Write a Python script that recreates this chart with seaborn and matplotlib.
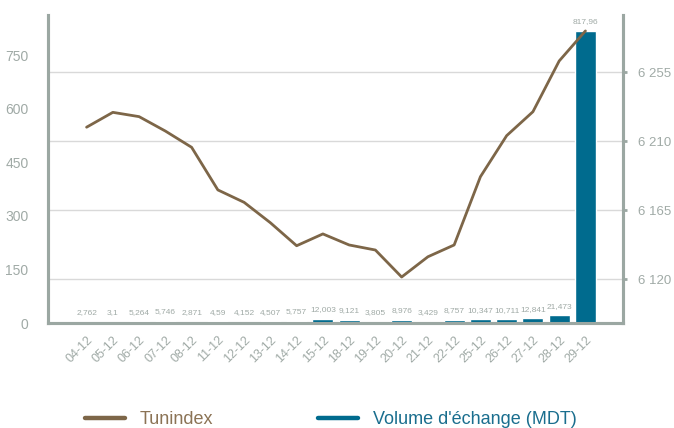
import numpy as np
import pandas as pd
import seaborn as sns
import matplotlib.pyplot as plt
from matplotlib.lines import Line2D
from matplotlib import transforms
from matplotlib.ticker import FuncFormatter

# données
dates = ["04-12", "05-12", "06-12", "07-12", "08-12", "11-12", "12-12", "13-12",
         "14-12", "15-12", "18-12", "19-12", "20-12", "21-12", "22-12", "25-12",
         "26-12", "27-12", "28-12", "29-12"]
volume = [2.762, 3.1, 5.264, 5.746, 2.871, 4.59, 4.152, 4.507, 5.757, 12.003,
          9.121, 3.805, 8.976, 3.429, 8.757, 10.347, 10.711, 12.841, 21.473, 817.96]
tunindex = [6219.0, 6228.7, 6225.9, 6216.5, 6205.9, 6178.1, 6170.0, 6156.7,
            6141.7, 6149.4, 6142.2, 6138.9, 6121.3, 6134.5, 6142.2, 6186.7,
            6213.5, 6229.1, 6262.2, 6281.8]
left_ticks = [0, 150, 300, 450, 600, 750]
right_ticks = [6120, 6165, 6210, 6255]

df = pd.DataFrame({"date": dates, "volume": volume, "tunindex": tunindex})

sns.set_style("white")
plt.rcParams["font.family"] = ["Liberation Sans", "DejaVu Sans"]

c_bar = "#006b8e"
c_line = "#7d6648"
c_axis = "#9ba7a2"
c_text = "#a0aaa6"

fig = plt.figure(figsize=(6.74, 4.28), dpi=100)
ax = fig.add_axes([0.0712, 0.2453, 0.8531, 0.7197])

sns.barplot(data=df, x="date", y="volume", color=c_bar, width=0.8,
            saturation=1, ax=ax, zorder=3)
ax.bar_label(ax.containers[0],
             labels=[f"{v:g}".replace(".", ",") for v in volume],
             padding=4, fontsize=6, color=c_text)

ax2 = ax.twinx()
sns.lineplot(x=np.arange(len(dates)), y=tunindex, color=c_line, lw=2,
             ax=ax2, zorder=3)

ax.set_xlim(-1.47, 20.43)
ax.set_ylim(0, 862)
ax2.set_ylim(6091.3, 6292.2)

# grille (suivant l'axe de droite) sous les barres
tr = transforms.blended_transform_factory(ax.transAxes, ax2.transData)
for t in right_ticks:
    ax.add_line(Line2D([0, 1], [t, t], transform=tr, color="#d9d9d9",
                       lw=1, zorder=1))

ax.set_yticks(left_ticks)
ax2.set_yticks(right_ticks)
ax2.yaxis.set_major_formatter(FuncFormatter(lambda v, p: f"{int(v):,}".replace(",", " ")))

ax.set_xlabel("")
ax.set_ylabel("")
ax2.set_ylabel("")

for a in (ax, ax2):
    for s in a.spines.values():
        s.set_color(c_axis)
        s.set_linewidth(2.2)
    a.spines["top"].set_visible(False)
ax.spines["bottom"].set_zorder(2)

ax.tick_params(axis="y", length=0, pad=14, labelsize=10, labelcolor=c_text)
ax.tick_params(axis="x", length=0, pad=8, labelsize=9, labelcolor=c_text)
ax2.tick_params(axis="y", length=3, width=2, color=c_axis, pad=8,
                labelsize=9.5, labelcolor=c_text)
for lab in ax.get_xticklabels():
    lab.set_rotation(45)
    lab.set_ha("right")
    lab.set_rotation_mode("anchor")

handles = [Line2D([], [], color=c_line, lw=3.2),
           Line2D([], [], color=c_bar, lw=3.2)]
leg = fig.legend(handles, ["Tunindex", "Volume d'échange (MDT)"], ncol=2,
                 loc="center", bbox_to_anchor=(0.491, 0.019), frameon=False,
                 fontsize=13, handlelength=2.2, handletextpad=0.85,
                 columnspacing=5.8)
for txt, c in zip(leg.get_texts(), ["#8b7355", "#1a6e8e"]):
    txt.set_color(c)

fig.savefig("out.png", dpi=100)
